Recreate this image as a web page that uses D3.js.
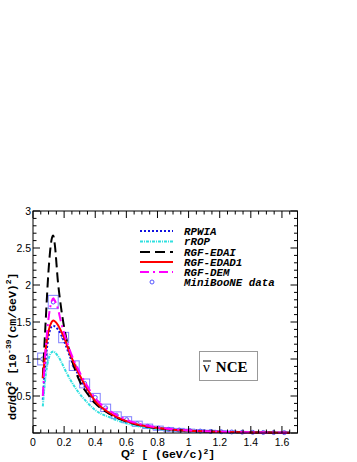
<!DOCTYPE html>
<html>
<head>
<meta charset="utf-8">
<script src="https://cdn.jsdelivr.net/npm/d3@7"></script>
<style>
  body { margin: 0; background: #fff; }
  svg { display: block; }
  .tick-lbl { font-family: "Liberation Sans", Arial, sans-serif; font-size: 10.5px; }
  .leg { font-family: "Liberation Mono", "DejaVu Sans Mono", monospace; font-size: 10.8px; font-weight: bold; font-style: italic; }
</style>
</head>
<body>
<div id="chart"></div>
<script>
// --- data ---
var q2Data = [0.062, 0.130, 0.197, 0.265, 0.332, 0.400, 0.467, 0.535, 0.602, 0.670, 0.737, 0.805,
              0.872, 0.940, 1.007, 1.075, 1.142, 1.210, 1.277, 1.345, 1.412, 1.480, 1.547, 1.615];
var xsData = [1.00, 1.77, 1.29, 0.91, 0.67, 0.48, 0.34, 0.24, 0.18, 0.125, 0.09, 0.065,
              0.05, 0.04, 0.032, 0.026, 0.021, 0.017, 0.014, 0.011, 0.009, 0.007, 0.006, 0.005];
var errData = [0.08, 0.09, 0.07, 0.065, 0.06, 0.055, 0.05, 0.045, 0.04, 0.035, 0.03, 0.028,
               0.025, 0.022, 0.02, 0.018, 0.016, 0.014, 0.012, 0.01, 0.01, 0.009, 0.008, 0.008];
var binHalf = 0.032;

var q2Curve = [0.063, 0.08, 0.1, 0.12, 0.13, 0.14, 0.16, 0.18, 0.2, 0.24, 0.3, 0.35, 0.4, 0.5, 0.6, 0.7, 0.8, 0.9, 1.0, 1.2, 1.4, 1.65];
var rpwia = [0.45, 0.95, 1.3, 1.44, 1.45, 1.44, 1.4, 1.33, 1.24, 1.02, 0.75, 0.57, 0.42, 0.25, 0.155, 0.097, 0.064, 0.044, 0.031, 0.015, 0.008, 0.004];
var rrop  = [0.36, 0.75, 1.0, 1.09, 1.1, 1.09, 1.04, 0.97, 0.88, 0.72, 0.53, 0.41, 0.31, 0.205, 0.13, 0.082, 0.054, 0.037, 0.026, 0.012, 0.006, 0.003];
var edai  = [0.75, 1.45, 2.2, 2.62, 2.67, 2.55, 2.05, 1.7, 1.43, 1.06, 0.7, 0.53, 0.4, 0.25, 0.155, 0.097, 0.064, 0.044, 0.031, 0.015, 0.008, 0.004];
var edad1 = [0.74, 1.1, 1.38, 1.5, 1.52, 1.51, 1.46, 1.38, 1.29, 1.06, 0.78, 0.59, 0.43, 0.26, 0.16, 0.1, 0.066, 0.045, 0.032, 0.016, 0.008, 0.004];
var dem   = [0.5, 1.1, 1.55, 1.78, 1.82, 1.79, 1.68, 1.5, 1.35, 1.1, 0.82, 0.63, 0.47, 0.29, 0.18, 0.115, 0.075, 0.051, 0.036, 0.018, 0.009, 0.0045];

var xTicks = [0, 0.2, 0.4, 0.6, 0.8, 1, 1.2, 1.4, 1.6];
var yTicks = [0.5, 1, 1.5, 2, 2.5, 3];

var series = [
  {name: "RPWIA",      values: rpwia, color: "#1010e0", width: 2,   dash: "2,2"},
  {name: "rROP",       values: rrop,  color: "#30e0e0", width: 2,   dash: "3,1,1,1"},
  {name: "RGF-EDAI",   values: edai,  color: "#000000", width: 2,   dash: "10,5"},
  {name: "RGF-EDAD1",  values: edad1, color: "#ff0000", width: 2,   dash: null},
  {name: "RGF-DEM",    values: dem,   color: "#ff00ff", width: 2,   dash: "9,4,2,4"}
];

var W = 357, H = 462;
var padL = 33, padR = 297.5, padT = 211, padB = 433;

var x = d3.scaleLinear().domain([0, 1.7]).range([padL, padR]);
var y = d3.scaleLinear().domain([0, 3]).range([padB, padT]);

var svg = d3.select("#chart").append("svg").attr("width", W).attr("height", H);

var line = d3.line().x(function(d){ return x(d[0]); }).y(function(d){ return y(d[1]); }).curve(d3.curveMonotoneX);

// data boxes + circles
var dataCol = "#5555ff";
var pts = q2Data.map(function(q, i){ return {q: q, v: xsData[i], e: errData[i]}; });
svg.selectAll(".box").data(pts).enter().append("rect")
   .attr("x", function(d){ return x(d.q - binHalf); })
   .attr("y", function(d){ return y(d.v + d.e); })
   .attr("width", function(d){ return x(d.q + binHalf) - x(d.q - binHalf); })
   .attr("height", function(d){ return y(d.v - d.e) - y(d.v + d.e); })
   .attr("fill", "none").attr("stroke", "#8080ff").attr("stroke-width", 1);
svg.selectAll(".pt").data(pts).enter().append("circle")
   .attr("cx", function(d){ return x(d.q); }).attr("cy", function(d){ return y(d.v); }).attr("r", 2)
   .attr("fill", "none").attr("stroke", dataCol).attr("stroke-width", 1);

// curves
series.forEach(function(s){
  svg.append("path").datum(q2Curve.map(function(q, i){ return [q, s.values[i]]; }))
     .attr("d", line).attr("fill", "none").attr("stroke", s.color)
     .attr("stroke-width", s.width).attr("stroke-dasharray", s.dash);
});

// frame
svg.append("rect").attr("x", padL).attr("y", padT).attr("width", padR - padL).attr("height", padB - padT)
   .attr("fill", "none").attr("stroke", "#000").attr("stroke-width", 1);

// ticks on all four sides
var xMinor = d3.range(0, 1.7001, 0.05);
var yMinor = d3.range(0, 3.0001, 0.1);
function isMajor(v, step) { return Math.abs(v / step - Math.round(v / step)) < 1e-6; }

var tg = svg.append("g").attr("stroke", "#000").attr("stroke-width", 1);
xMinor.forEach(function(v){
  var len = isMajor(v, 0.2) ? 7 : 3.5;
  tg.append("line").attr("x1", x(v)).attr("x2", x(v)).attr("y1", padB).attr("y2", padB - len);
  tg.append("line").attr("x1", x(v)).attr("x2", x(v)).attr("y1", padT).attr("y2", padT + len);
});
yMinor.forEach(function(v){
  var len = isMajor(v, 0.5) ? 7 : 3.5;
  tg.append("line").attr("x1", padL).attr("x2", padL + len).attr("y1", y(v)).attr("y2", y(v));
  tg.append("line").attr("x1", padR).attr("x2", padR - len).attr("y1", y(v)).attr("y2", y(v));
});

// tick labels
svg.selectAll(".xl").data(xTicks).enter().append("text").attr("class", "tick-lbl")
   .attr("x", function(d){ return x(d); }).attr("y", padB + 13).attr("text-anchor", "middle")
   .text(function(d){ return d; });
svg.selectAll(".yl").data(yTicks).enter().append("text").attr("class", "tick-lbl")
   .attr("x", padL - 2).attr("y", function(d){ return y(d) + 4; }).attr("text-anchor", "end")
   .text(function(d){ return d; });

// axis titles
var xt = svg.append("text").attr("x", 121).attr("y", 458).attr("font-size", 11.5).attr("font-weight", "bold");
xt.append("tspan").attr("font-family", "Liberation Sans, Arial, sans-serif").text("Q");
xt.append("tspan").attr("font-family", "Liberation Sans, Arial, sans-serif").attr("font-size", 8).attr("dy", -4).text("2");
xt.append("tspan").attr("font-family", "Liberation Mono, monospace").attr("dy", 4).text("  [ (GeV/c)");
xt.append("tspan").attr("font-family", "Liberation Mono, monospace").attr("font-size", 8).attr("dy", -4).text("2");
xt.append("tspan").attr("font-family", "Liberation Mono, monospace").attr("dy", 4).text("]");

var yt = svg.append("text").attr("transform", "translate(16,420) rotate(-90)").attr("font-size", 11.5).attr("font-weight", "bold");
yt.append("tspan").attr("font-family", "Liberation Sans, Arial, sans-serif").text("d\u03c3/dQ");
yt.append("tspan").attr("font-family", "Liberation Sans, Arial, sans-serif").attr("font-size", 8).attr("dy", -5).text("2");
yt.append("tspan").attr("font-family", "Liberation Mono, monospace").attr("dy", 5).text("  [10");
yt.append("tspan").attr("font-family", "Liberation Mono, monospace").attr("font-size", 8).attr("dy", -5).text("-39");
yt.append("tspan").attr("font-family", "Liberation Mono, monospace").attr("dy", 5).text("(cm/GeV)");
yt.append("tspan").attr("font-family", "Liberation Mono, monospace").attr("font-size", 8).attr("dy", -5).text("2");
yt.append("tspan").attr("font-family", "Liberation Mono, monospace").attr("dy", 5).text("]");

// legend
var legY = [231, 241.5, 252, 262, 272];
series.forEach(function(s, i){
  svg.append("line").attr("x1", 140).attr("x2", 173).attr("y1", legY[i]).attr("y2", legY[i])
     .attr("stroke", s.color).attr("stroke-width", s.width).attr("stroke-dasharray", s.dash);
  svg.append("text").attr("class", "leg").attr("x", 184).attr("y", legY[i] + 3.5).text(s.name);
});
svg.append("circle").attr("cx", 152).attr("cy", 282).attr("r", 2).attr("fill", "none").attr("stroke", dataCol);
svg.append("text").attr("class", "leg").attr("x", 184).attr("y", 285.5).text("MiniBooNE data");

// NCE label box
svg.append("rect").attr("x", 199.5).attr("y", 351.5).attr("width", 58).attr("height", 29)
   .attr("fill", "#fff").attr("stroke", "#999").attr("stroke-width", 1);
var nt = svg.append("text").attr("x", 203).attr("y", 372).attr("font-family", "Liberation Serif, Times New Roman, serif")
   .attr("font-size", 15).attr("font-weight", "bold");
nt.append("tspan").attr("font-weight", "normal").text("\u03bd");
nt.append("tspan").attr("dx", 6).text("NCE");
svg.append("line").attr("x1", 203).attr("x2", 211).attr("y1", 361).attr("y2", 361).attr("stroke", "#000").attr("stroke-width", 1);
</script>
</body>
</html>
